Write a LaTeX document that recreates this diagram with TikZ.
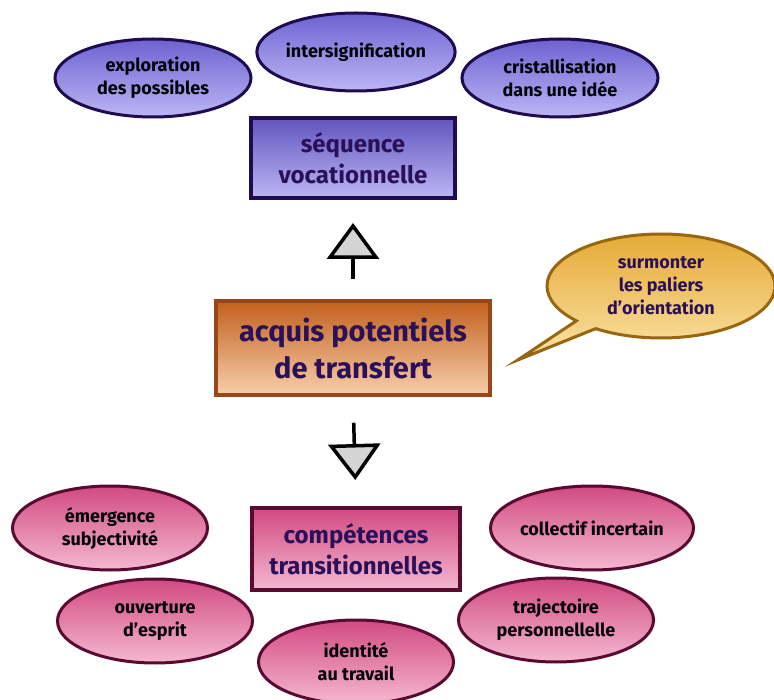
\documentclass[tikz,border=0pt]{standalone}
\usepackage{fontspec}
\setmainfont{Fira Sans}
\usetikzlibrary{positioning,arrows.meta,shapes.geometric,shapes.callouts}

\definecolor{navy}{HTML}{1E0C4E}
\definecolor{inktext}{HTML}{2A1058}
\definecolor{lavtop}{HTML}{6E62D2}
\definecolor{lavbot}{HTML}{BCB6F4}
\definecolor{ortop}{HTML}{C2601E}
\definecolor{orbot}{HTML}{F7CEAA}
\definecolor{orline}{HTML}{984818}
\definecolor{goldtop}{HTML}{E6AA36}
\definecolor{goldbot}{HTML}{FAE3A6}
\definecolor{goldline}{HTML}{986610}
\definecolor{pinktop}{HTML}{D24A82}
\definecolor{pinkbot}{HTML}{F4B8D0}
\definecolor{wine}{HTML}{580A32}

\begin{document}
\begin{tikzpicture}[
    x=1pt, y=-1pt,
    oval/.style={ellipse, draw, line width=3pt, inner sep=0pt, align=center,
                 font=\fontsize{18}{23}\selectfont\bfseries, text=black!90!navy},
    ovalblue/.style={oval, draw=navy, top color=lavtop, bottom color=lavbot,
                 minimum width=196pt, minimum height=78pt},
    ovalpink/.style={oval, draw=wine, top color=pinktop, bottom color=pinkbot,
                 minimum width=195pt, minimum height=84pt},
    mainbox/.style={rectangle, draw, line width=4pt, align=center, inner sep=0pt,
                 text=inktext},
    bigarr/.style={line width=3.5pt, black,
                 -{Triangle[length=36pt, width=52pt, fill=black!17, line join=miter]}},
  ]
  \useasboundingbox (0,0) rectangle (774,700);

  % --- top: vocational sequence ---
  \node[ovalblue] (explo) at (153,78) {exploration\\des possibles};
  \node[ovalblue] (inter) at (356,52) {intersignification};
  \node[ovalblue] (crist) at (560,78) {cristallisation\\dans une idée};
  \node[mainbox, draw=navy, top color=lavtop!85!navy, bottom color=lavbot,
        minimum width=204pt, minimum height=80pt,
        font=\fontsize{24}{31}\selectfont\bfseries] (seq) at (353,158) {séquence\\vocationnelle};

  % --- centre ---
  \node[mainbox, draw=orline, line width=3.5pt, top color=ortop, bottom color=orbot,
        minimum width=274pt, minimum height=94pt,
        font=\fontsize{29}{37}\selectfont\bfseries] (acq) at (353,348) {acquis potentiels\\de transfert};

  % --- speech bubble (right) ---
  \node[ellipse callout, draw=goldline, line width=3pt, top color=goldtop, bottom color=goldbot,
        minimum width=228pt, minimum height=104pt, inner sep=0pt, align=center,
        callout absolute pointer={([xshift=26pt,yshift=-12pt]acq.east)}, callout pointer arc=13,
        font=\fontsize{18}{23}\selectfont\bfseries, text=inktext] (surm) at (661,286)
        {surmonter\\les paliers\\d’orientation};

  % --- bottom: transitional skills ---
  \node[mainbox, draw=wine, top color=pinktop, bottom color=pinkbot,
        minimum width=208pt, minimum height=82pt,
        font=\fontsize{24}{31}\selectfont\bfseries] (comp) at (356,549) {compétences\\transitionnelles};
  \node[ovalpink] (emerg)   at (110,528) {émergence\\subjectivité};
  \node[ovalpink] (ouvert)  at (155,621) {ouverture\\d’esprit};
  \node[ovalpink] (ident)   at (356,662) {identité\\au travail};
  \node[ovalpink] (collect) at (592,528) {collectif incertain};
  \node[ovalpink] (traj)    at (556,620) {trajectoire\\personnellelle};

  % --- the two big arrows ---
  \draw[bigarr, shorten <=20pt, shorten >=23pt] (acq.north) -- (seq.south);
  \draw[bigarr, shorten <=26pt, shorten >=26pt] (acq.south) -- (comp.north);
\end{tikzpicture}
\end{document}
